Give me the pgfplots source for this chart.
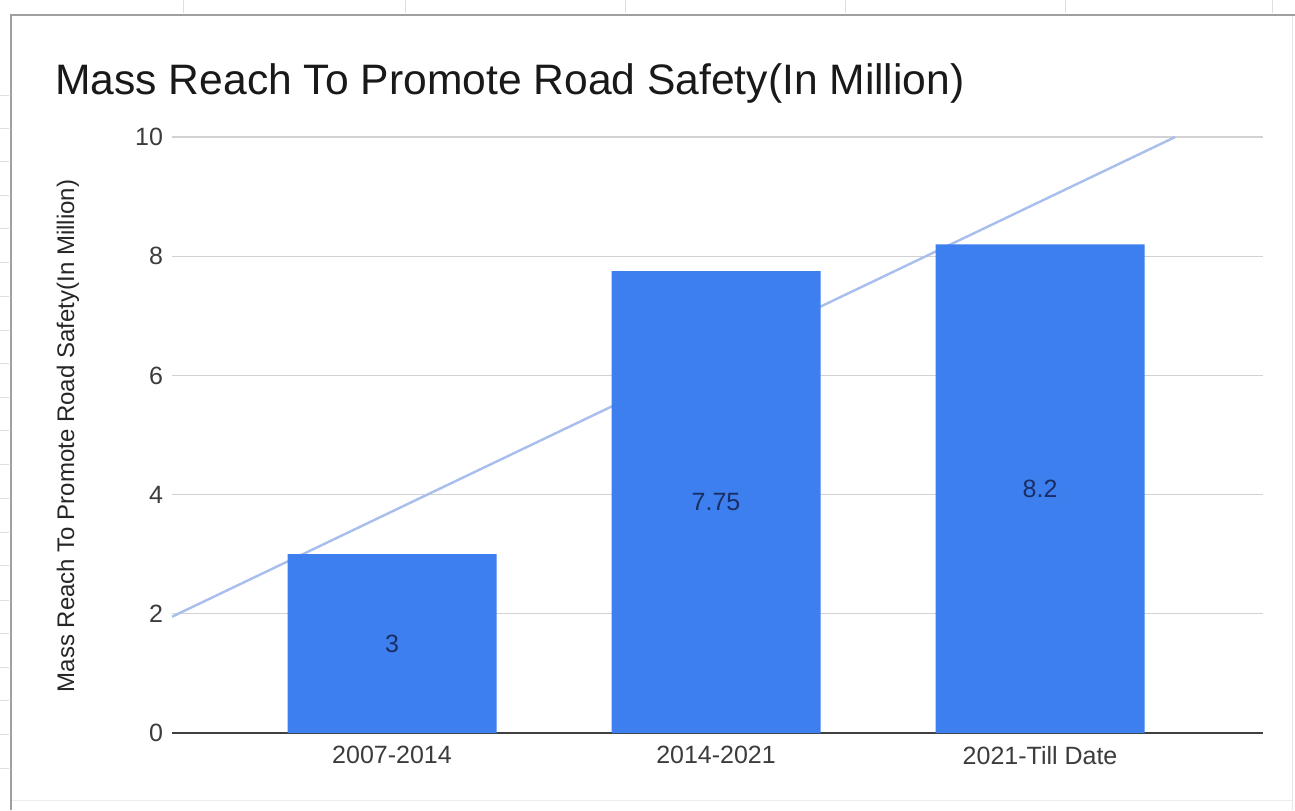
\documentclass[border=0pt]{standalone}
\usepackage{pgfplots}
\pgfplotsset{compat=1.18}
\usepackage{fontspec}
\setmainfont{Liberation Sans}

\definecolor{barblue}{RGB}{61,127,238}
\definecolor{trendblue}{RGB}{168,190,236}
\definecolor{labelnavy}{RGB}{26,46,100}
\definecolor{ticktext}{RGB}{60,60,60}

\begin{document}
\begin{tikzpicture}
% pixel frame: 1px = 0.5pt, origin at the axis' lower left corner
\begin{scope}[x=0.5pt,y=-0.5pt,shift={(-86pt,366.5pt)}]
  \useasboundingbox (0,0) rectangle (1295,810);
  \fill[white] (0,0) rectangle (1295,810);
  % spreadsheet cells peeking out round the chart
  \foreach \c in {183,405,625,845,1065,1272}
    \draw[gray!25] (\c,0) -- (\c,13);
  \foreach \r in {95,128,161,195,228,262,296,330,363,397,430,464,498,532,565,600,633,667,700,734,768}
    \draw[gray!25] (0,\r) -- (9,\r);
  \draw[gray!20] (1292,15) -- (1292,810);
  \draw[gray!15] (11,800) -- (1292,800);
  \draw[gray!75, line width=0.8pt] (11,810) -- (11,15) -- (1295,15);
\end{scope}

\begin{axis}[
  scale only axis,
  width=545.5pt, height=298pt,
  xmin=-0.679, xmax=2.688,
  ymin=0, ymax=10,
  axis line style={draw=none},
  major tick length=0pt,
  tick style={draw=none},
  xtick={0,1,2},
  xticklabels={2007-2014,2014-2021,2021-Till Date},
  ytick={2,4,6,8,10},
  extra y ticks={0},
  extra y tick style={grid style={black!75, line width=0.8pt}},
  ymajorgrids,
  grid style={gray!35, line width=0.6pt},
  /pgf/number format/assume math mode=true,
  tick label style={font=\fontsize{12.5}{14}\selectfont, text=ticktext},
  xticklabel style={yshift=-3pt},
  yticklabel style={xshift=-1pt},
  clip=true,
]
% linear trendline of the three values
\addplot[trendblue, line width=1.2pt] coordinates {(-0.679,1.951) (2.417,10)};
\addplot[ybar, bar width=104.5pt, fill=barblue, draw=none] coordinates {
(0,3)
(1,7.75)
(2,8.2)
};
% value labels at half bar height
\addplot[draw=none, mark=none, nodes near coords, point meta=explicit symbolic,
  every node near coord/.style={anchor=center, font=\fontsize{12.5}{14}\selectfont, text=labelnavy}]
  coordinates {
(0,1.5) [3]
(1,3.875) [7.75]
(2,4.1) [8.2]
};
\end{axis}

\begin{scope}[x=0.5pt,y=-0.5pt,shift={(-86pt,366.5pt)}]
  \node[anchor=base west, inner sep=0pt, text=black!90, font=\fontsize{21.3}{24}\selectfont]
    at (55,95) {Mass Reach To Promote Road Safety(In Million)};
  \node[rotate=90, inner sep=0pt, text=black!85, font=\fontsize{12}{14}\selectfont]
    at (68,436) {Mass Reach To Promote Road Safety(In Million)};
\end{scope}
\end{tikzpicture}
\end{document}
